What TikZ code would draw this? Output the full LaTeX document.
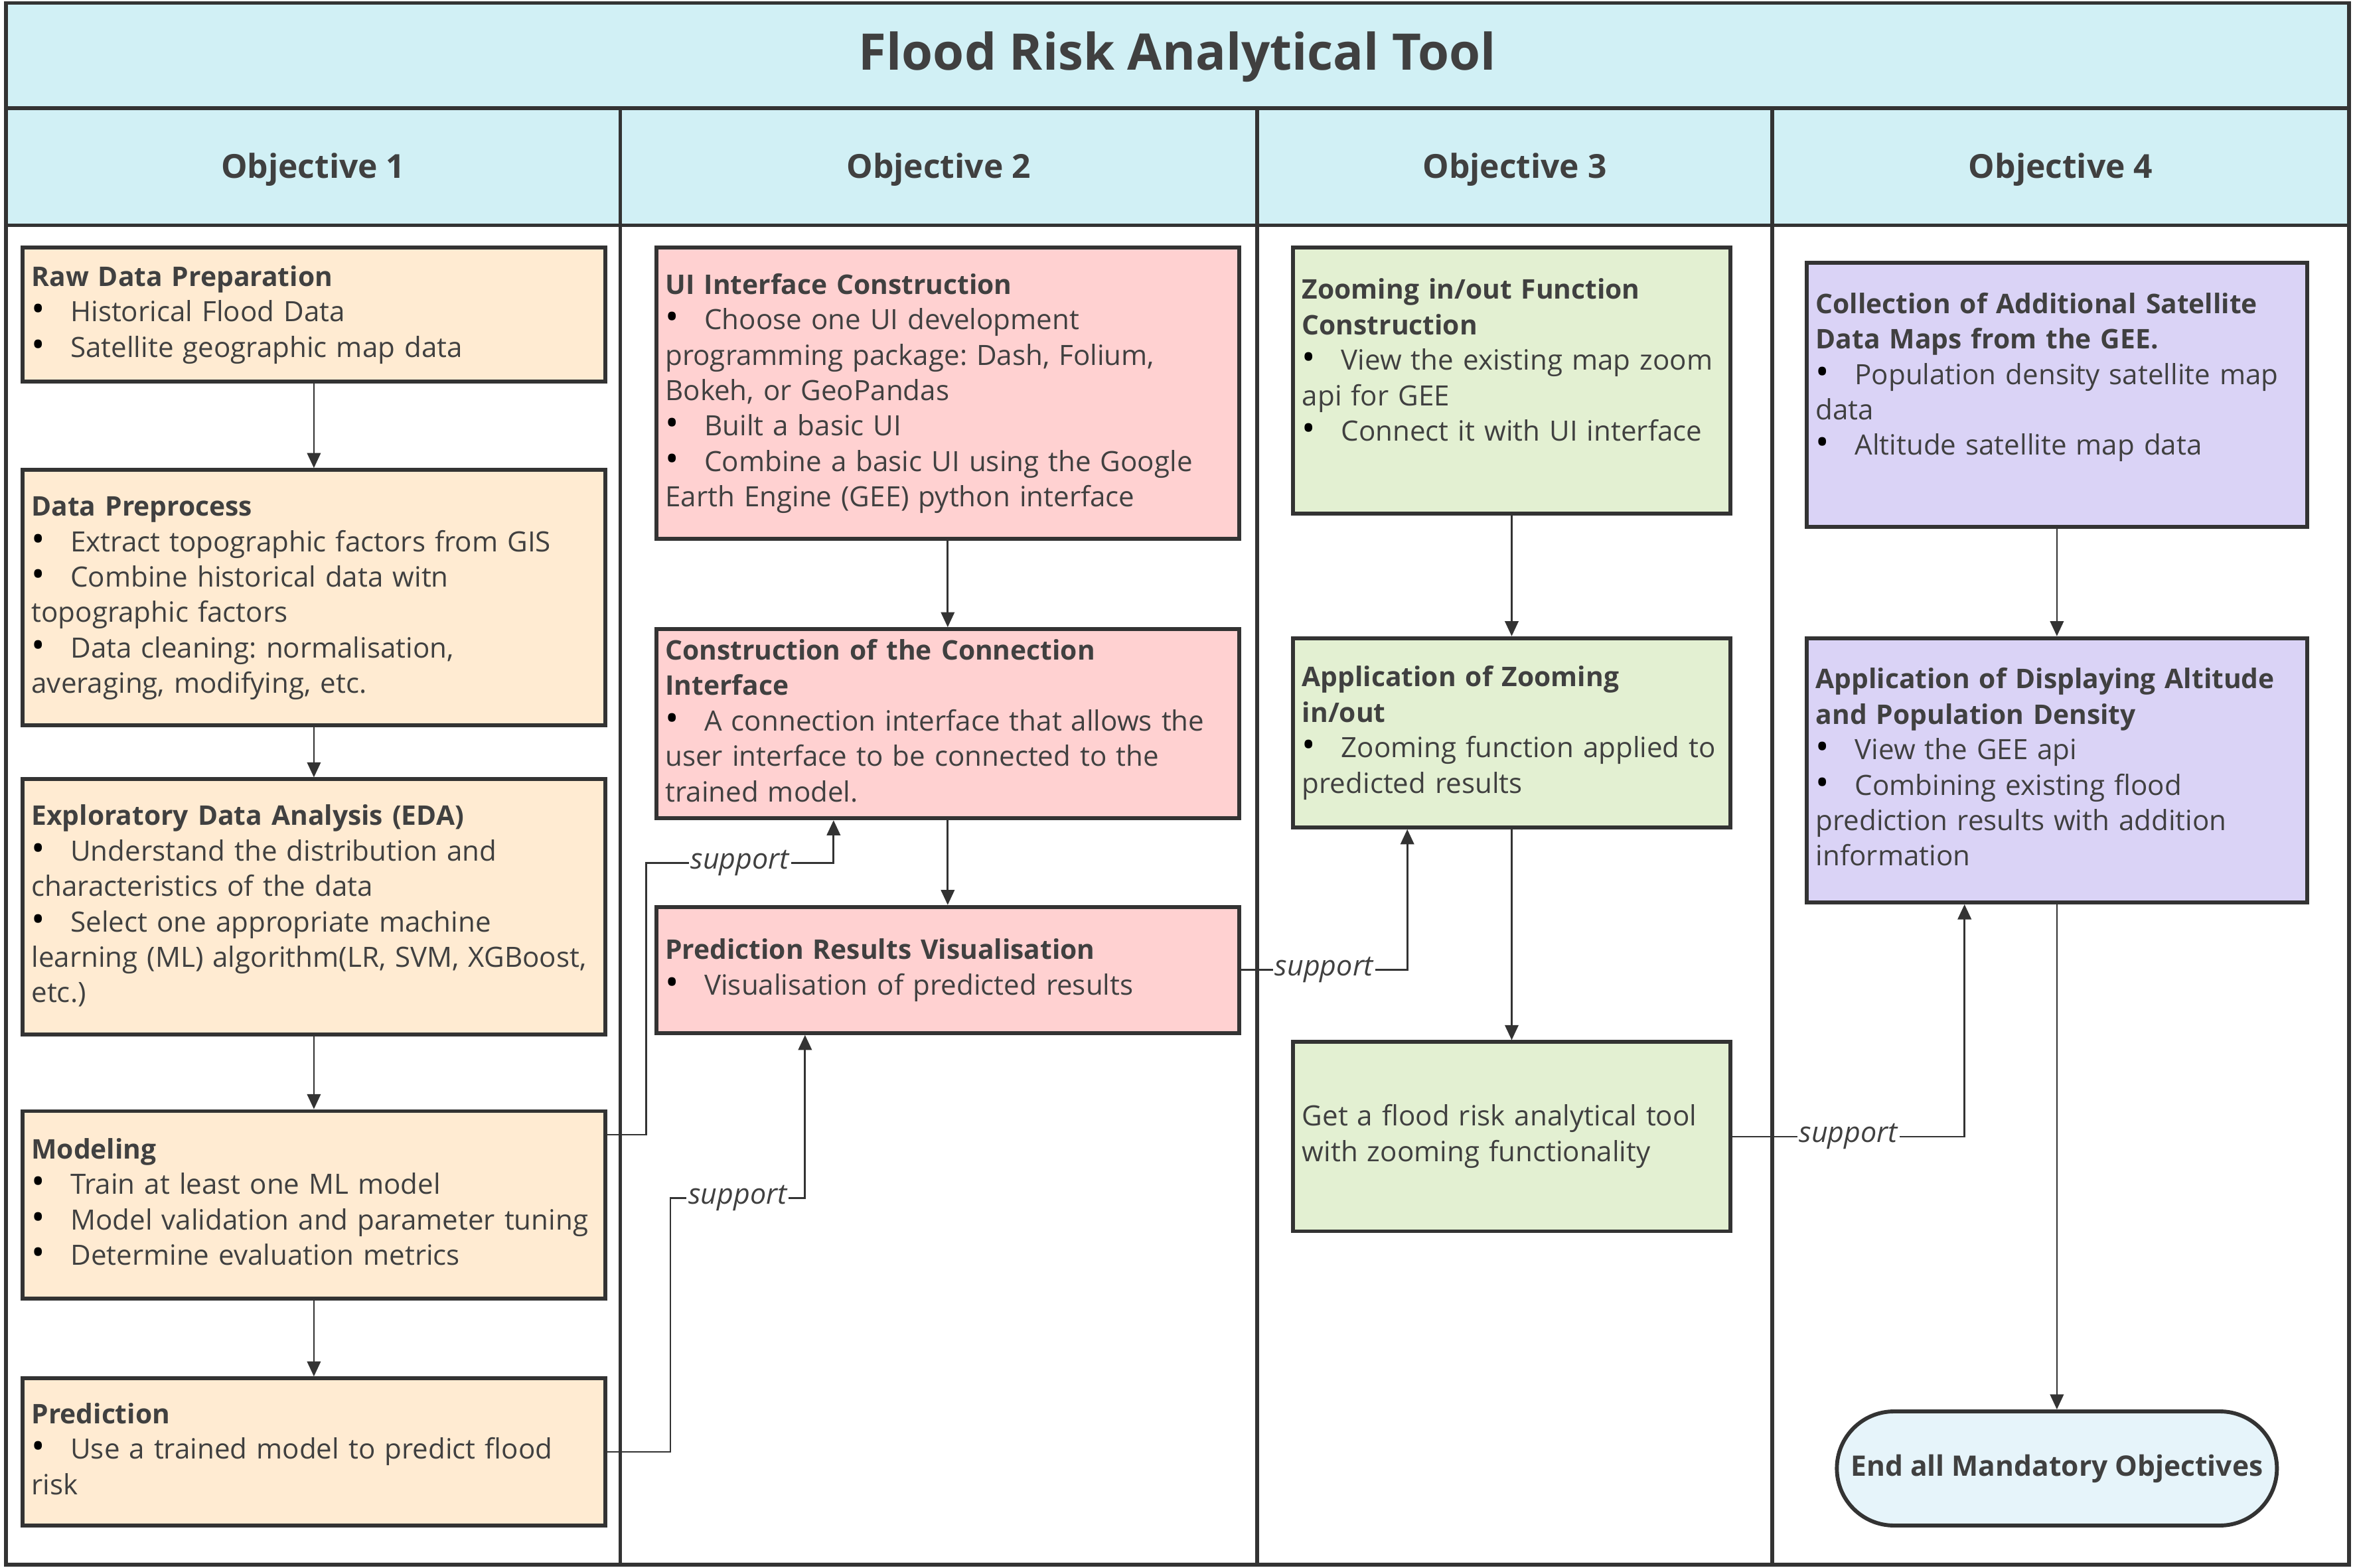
\documentclass[tikz,border=0pt]{standalone}
\usepackage{fontspec}
\setmainfont{Open Sans}
\usetikzlibrary{arrows.meta,calc}
\definecolor{linec}{HTML}{333333}
\definecolor{txtc}{HTML}{404040}
\definecolor{headc}{HTML}{D1F0F5}
\definecolor{orangec}{HTML}{FFEBD2}
\definecolor{pinkc}{HTML}{FFD1D1}
\definecolor{greenc}{HTML}{E3F0D2}
\definecolor{purplec}{HTML}{DAD3F6}
\definecolor{endc}{HTML}{E6F4FA}
\frenchspacing
\newcommand{\bul}{\makebox[13pt][l]{\color{black}\fontsize{12}{11.8}\selectfont\textbullet}}
\newcommand{\hd}[1]{{\fontsize{9}{11.8}\selectfont\bfseries #1}}
\newcommand{\tl}[1]{\begin{tabular}{@{}l@{}}#1\end{tabular}}
\begin{document}
\begin{tikzpicture}[x=0.5pt,y=-0.5pt,
  every node/.style={text=txtc, font=\fontsize{9.3}{11.8}\selectfont},
  frame/.style={draw=linec, line width=1.2pt},
  card/.style={draw=linec, line width=1.3pt, inner xsep=3pt, inner ysep=0pt, align=left},
  c1/.style={card, fill=orangec, text width=188pt},
  c2/.style={card, fill=pinkc, text width=188pt},
  c3/.style={card, fill=greenc, text width=139.5pt},
  c4/.style={card, fill=purplec, text width=160.5pt},
  endnode/.style={draw=linec, line width=1.3pt, fill=endc, rounded corners=19pt,
    minimum width=146.5pt, minimum height=38pt, font=\fontsize{9.4}{11.8}\selectfont\bfseries},
  flow/.style={draw=linec, line width=0.6pt, -{Triangle[length=5pt,width=4.5pt]}},
  lbl/.style={fill=white, inner sep=0.6pt, font=\itshape\fontsize{9.5}{11.8}\selectfont},
  headtxt/.style={font=\fontsize{11}{13}\selectfont\bfseries}
]
\useasboundingbox (0,0) rectangle (1568,1044);
% frame
\fill[headc] (4,2) rectangle (1564,150);
\draw[frame] (4,72) -- (1564,72);
\draw[frame] (4,150) -- (1564,150);
\draw[frame] (413,72) -- (413,1042);
\draw[frame] (837,72) -- (837,1042);
\draw[frame] (1180,72) -- (1180,1042);
\draw[frame] (4,2) rectangle (1564,1042);
\node (title) at (784,38) {\fontsize{16.8}{20}\selectfont\bfseries Flood Risk Analytical Tool};
\node[headtxt] (h1) at (208.5,113) {Objective 1};
\node[headtxt] (h2) at (625,113) {Objective 2};
\node[headtxt] (h3) at (1008.5,113) {Objective 3};
\node[headtxt] (h4) at (1372,113) {Objective 4};

% column 1
\node[c1, minimum height=44.5pt] (raw) at (209,209.5) {\tl{\hd{Raw Data Preparation}\\
\bul Historical Flood Data\\
\bul Satellite geographic map data}};
\node[c1, minimum height=85pt] (prep) at (209,398) {\tl{\hd{Data Preprocess}\\
\bul Extract topographic factors from GIS\\
\bul Combine historical data witn\\
topographic factors\\
\bul Data cleaning: normalisation,\\
averaging, modifying, etc.}};
\node[c1, minimum height=85pt] (eda) at (209,604) {\tl{\hd{Exploratory Data Analysis (EDA)}\\
\bul Understand the distribution and\\
characteristics of the data\\
\bul Select one appropriate machine\\
learning (ML) algorithm(LR, SVM, XGBoost,\\
etc.)}};
\node[c1, minimum height=62.5pt] (model) at (209,802.5) {\tl{\hd{Modeling}\\
\bul Train at least one ML model\\
\bul Model validation and parameter tuning\\
\bul Determine evaluation metrics}};
\node[c1, minimum height=49pt] (pred) at (209,967) {\tl{\hd{Prediction}\\
\bul Use a trained model to predict flood\\
risk}};

% column 2
\node[c2, minimum height=97pt] (ui) at (631,262) {\tl{\hd{UI Interface Construction}\\
\bul Choose one UI development\\
programming package: Dash, Folium,\\
Bokeh, or GeoPandas\\
\bul Built a basic UI\\
\bul Combine a basic UI using the Google\\
Earth Engine (GEE) python interface}};
\node[c2, minimum height=63pt] (conn) at (631,482) {\tl{\hd{Construction of the Connection}\\
\hd{Interface}\\
\bul A connection interface that allows the\\
user interface to be connected to the\\
trained model.}};
\node[c2, minimum height=42pt] (vis) at (631,646) {\tl{\hd{Prediction Results Visualisation}\\
\bul Visualisation of predicted results}};

% column 3
\node[c3, minimum height=88.5pt] (zoomf) at (1006.5,253.5) {\tl{\hd{Zooming in/out Function}\\
\hd{Construction}\\
\bul View the existing map zoom\\
api for GEE\\
\bul Connect it with UI interface\\
~}};
\node[c3, minimum height=63pt] (appz) at (1006.5,488) {\tl{\hd{Application of Zooming}\\
\hd{in/out}\\
\bul Zooming function applied to\\
predicted results}};
\node[c3, minimum height=63pt] (get) at (1006.5,757) {\tl{Get a flood risk analytical tool\\
with zooming functionality}};

% column 4
\node[c4, minimum height=88pt] (coll) at (1369.5,263) {\tl{\hd{Collection of Additional Satellite}\\
\hd{Data Maps from the GEE.}\\
\bul Population density satellite map\\
data\\
\bul Altitude satellite map data\\
~}};
\node[c4, minimum height=88pt] (appd) at (1369.5,513) {\tl{\hd{Application of Displaying Altitude}\\
\hd{and Population Density}\\
\bul View the GEE api\\
\bul Combining existing flood\\
prediction results with addition\\
information}};
\node[endnode] (end) at (1369.5,978) {End all Mandatory Objectives};

% flow arrows
\draw[flow] (raw.south) -- (prep.north);
\draw[flow] (prep.south) -- (eda.north);
\draw[flow] (eda.south) -- (model.north);
\draw[flow] (model.south) -- (pred.north);
\draw[flow] (ui.south) -- (conn.north);
\draw[flow] (conn.south) -- (vis.north);
\draw[flow] (zoomf.south) -- (appz.north);
\draw[flow] (appz.south) -- (get.north);
\draw[flow] (coll.south) -- (appd.north);
\draw[flow] (appd.south) -- (end.north);

% support connectors
\draw[flow] ([yshift=-8.5pt]model.north east) -- ++(26,0) -- ++(0,-181)
  -| node[lbl,pos=0.25]{support} ([xshift=-38pt]conn.south);
\draw[flow] (pred.east) -- ++(42,0) -- ++(0,-169)
  -| node[lbl,pos=0.25]{support} ([xshift=-47.5pt]vis.south);
\draw[flow] (vis.east) -| node[lbl,pos=0.25]{support} ([xshift=-34.75pt]appz.south);
\draw[flow] (get.east) -| node[lbl,pos=0.25]{support} ([xshift=-30.75pt]appd.south);
\end{tikzpicture}
\end{document}
